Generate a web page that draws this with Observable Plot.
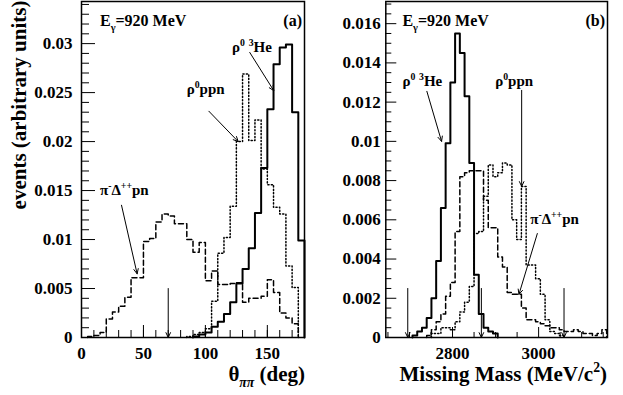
<!DOCTYPE html>
<html><head><meta charset="utf-8">
<script src="https://cdn.jsdelivr.net/npm/d3@7"></script>
<script src="https://cdn.jsdelivr.net/npm/@observablehq/plot@0.6"></script>
<style>
body{margin:0;background:#fff;}
#wrap{position:relative;width:623px;height:395px;overflow:hidden;background:#fff;}
#wrap svg{position:absolute;top:0;}
</style></head><body><div id="wrap"></div>
<script>
// ---------- Panel (a): opening angle theta_pipi (deg), 5 deg bins ----------
const thetaBinWidth = 5;
const thetaSolidStart = 90;   // rho0 3He
const thetaSolid = [0.0001,0.0003,0.0005,0.0011,0.0016,0.0024,0.0036,0.0055,0.0070,0.0091,0.0127,0.0173,0.0233,0.0279,0.0296,0.0299,0.0230,0.0099];
const thetaDashedStart = 5;   // pi- Delta++ p n
const thetaDashed = [0.0001,0.0002,0.0005,0.0019,0.0026,0.0032,0.0041,0.0061,0.0061,0.0098,0.0101,0.0118,0.0126,0.0124,0.0116,0.0116,0.0100,0.0087,0.0097,0.0058,0.0068,0.0054,0.0054,0.0055,0.0056,0.0036,0.0040,0.0040,0.0042,0.0059,0.0046,0.0025,0.0020,0.0014];
const thetaDottedStart = 85;  // rho0 p p n
const thetaDotted = [0.0001,0.0003,0.0005,0.0009,0.0037,0.0086,0.0102,0.0134,0.0200,0.0269,0.0201,0.0222,0.0172,0.0156,0.0133,0.0126,0.0073,0.0051];
const thetaXTicks = [0,50,100,150];
const thetaXMinor = [0,10,20,30,40,50,60,70,80,90,100,110,120,130,140,150,160,170];
const thetaYTicks = [0,0.005,0.01,0.015,0.02,0.025,0.03];
const thetaYMinor = [0.001,0.002,0.003,0.004,0.006,0.007,0.008,0.009,0.011,0.012,0.013,0.014,0.016,0.017,0.018,0.019,0.021,0.022,0.023,0.024,0.026,0.027,0.028,0.029,0.031,0.032,0.033,0.034];
const thetaCut = [{x:70, y1:0.005, y2:0}];
const thetaLabelArrows = [
  {x1:135.8, y1:0.0291, x2:155.2, y2:0.0252},
  {x1:102.8, y1:0.0231, x2:126.5, y2:0.0200},
  {x1:32.3, y1:0.0135, x2:44.9, y2:0.0065}
];

// ---------- Panel (b): missing mass (MeV/c^2) ----------
const massBinStart = 2652;
const massBinWidth = 11;
const massSolidFirstBin = 5;
const massSolid = [0.0001,0.0003,0.0005,0.0010,0.0020,0.0039,0.0066,0.0099,0.0130,0.0155,0.0145,0.0123,0.0089,0.0032,0.0012,0.0005,0.0003,0.0002];
const massDashedFirstBin = 8;
const massDashed = [0.0001,0.0004,0.0008,0.0012,0.0021,0.0028,0.0054,0.0082,0.0084,0.0085,0.0085,0.0085,0.0070,0.0056,0.0056,0.0041,0.0036,0.0023,0.0022,0.0022,0.0015,0.0009,0.0009,0.0008,0.0007,0.0006,0.0005,0.0005,0.0004,0.0003,0.0003,0.0004,0.0003,0.0002,0.0002,0.0001,0.0002,0.0004];
const massDottedFirstBin = 9;
const massDotted = [0.0002,0.0002,0.0005,0.0005,0.0004,0.0008,0.0013,0.0018,0.0026,0.0053,0.0054,0.0072,0.0088,0.0082,0.0084,0.0089,0.0088,0.0060,0.0050,0.0077,0.0037,0.0037,0.0030,0.0022,0.0009,0.0003,0.0002,0.0001];
const massXTicks = [2800,3000];
const massXMinor = [2650,2700,2750,2850,2900,2950,3050,3100,3150];
const massYTicks = [0,0.002,0.004,0.006,0.008,0.01,0.012,0.014,0.016];
const massYMinor = [0.0005,0.001,0.0015,0.0025,0.003,0.0035,0.0045,0.005,0.0055,0.0065,0.007,0.0075,0.0085,0.009,0.0095,0.0105,0.011,0.0115,0.0125,0.013,0.0135,0.0145,0.015,0.0155,0.0165,0.017];
const massCuts = [2696, 2867, 3059];
const massCutTop = 0.0025;
const massLabelArrows = [
  {x1:2740.4, y1:0.01255, x2:2774.5, y2:0.0100},
  {x1:2960.6, y1:0.0126, x2:2960.6, y2:0.0077},
  {x1:2997, y1:0.0053, x2:2954.3, y2:0.0022}
];

const FONT = "Liberation Serif";

function steps(start, width, values) {
  const pts = [{x: start, y: 0}];
  values.forEach((v, i) => {
    pts.push({x: start + i * width, y: v});
    pts.push({x: start + (i + 1) * width, y: v});
  });
  pts.push({x: start + values.length * width, y: 0});
  return pts;
}

function axisSet(xMajor, xMinor, yMajor, yMinor, xMajLen, xMinLen, yMajLen, yMinLen, yPad) {
  const tick = {fill: "none", stroke: "black", label: null};
  const txt = {tickSize: 0, label: null, fill: "black", stroke: "none", tickFormat: d => String(d)};
  return [
    Plot.axisX(xMinor, {tickSize: -xMinLen, ...tick}),
    Plot.axisX(xMajor, {tickSize: -xMajLen, ...tick}),
    Plot.axisX(xMajor, {tickPadding: 9, ...txt}),
    Plot.axisY(yMinor, {tickSize: -yMinLen, ...tick}),
    Plot.axisY(yMajor, {tickSize: -yMajLen, ...tick}),
    Plot.axisY(yMajor, {tickPadding: yPad, ...txt})
  ];
}

const solidStyle = {stroke: "black", strokeWidth: 2};
const dashedStyle = {stroke: "black", strokeWidth: 1.5, strokeDasharray: "5,3"};
const dottedStyle = {stroke: "black", strokeWidth: 1.5, strokeDasharray: "1.2,2.2"};

const plotA = Plot.plot({
  width: 310, height: 395,
  marginLeft: 81, marginRight: 6, marginTop: 1, marginBottom: 58,
  x: {domain: [0, 180], label: null},
  y: {domain: [0, 0.0343], label: null},
  style: {background: "white", color: "black"},
  marks: [
    Plot.line(steps(thetaDottedStart, thetaBinWidth, thetaDotted), {x: "x", y: "y", ...dottedStyle}),
    Plot.line(steps(thetaDashedStart, thetaBinWidth, thetaDashed), {x: "x", y: "y", ...dashedStyle}),
    Plot.line(steps(thetaSolidStart, thetaBinWidth, thetaSolid), {x: "x", y: "y", ...solidStyle}),
    ...axisSet(thetaXTicks, thetaXMinor, thetaYTicks, thetaYMinor, 12, 7, 14, 8, 9),
    Plot.arrow(thetaCut, {x1: "x", y1: "y1", x2: "x", y2: "y2", stroke: "black", strokeWidth: 1, headLength: 8, headAngle: 50}),
    Plot.arrow(thetaLabelArrows, {x1: "x1", y1: "y1", x2: "x2", y2: "y2", stroke: "black", strokeWidth: 1, headLength: 8, headAngle: 50}),
    Plot.frame({stroke: "black", strokeWidth: 1.5})
  ]
});

const plotB = Plot.plot({
  width: 313, height: 395,
  marginLeft: 75.3, marginRight: 16, marginTop: 1, marginBottom: 58,
  x: {domain: [2645, 3160], label: null},
  y: {domain: [0, 0.01713], label: null},
  style: {background: "white", color: "black"},
  marks: [
    Plot.line(steps(massBinStart + massDottedFirstBin * massBinWidth, massBinWidth, massDotted), {x: "x", y: "y", ...dottedStyle}),
    Plot.line(steps(massBinStart + massDashedFirstBin * massBinWidth, massBinWidth, massDashed), {x: "x", y: "y", ...dashedStyle}),
    Plot.line(steps(massBinStart + massSolidFirstBin * massBinWidth, massBinWidth, massSolid), {x: "x", y: "y", ...solidStyle}),
    ...axisSet(massXTicks, massXMinor, massYTicks, massYMinor, 10, 5, 11, 6, 5),
    Plot.arrow(massCuts, {x1: d => d, x2: d => d, y1: () => massCutTop, y2: () => 0, stroke: "black", strokeWidth: 1, headLength: 8, headAngle: 50}),
    Plot.arrow(massLabelArrows, {x1: "x1", y1: "y1", x2: "x2", y2: "y2", stroke: "black", strokeWidth: 1, headLength: 8, headAngle: 50}),
    Plot.frame({stroke: "black", strokeWidth: 1.5})
  ]
});

// make Plot's own tick labels bold serif like the original
for (const p of [plotA, plotB]) {
  d3.select(p).selectAll("text")
    .style("font-family", `"${FONT}", serif`)
    .style("font-weight", "bold")
    .style("font-size", "17px")
    .style("fill", "black");
}

const wrap = document.getElementById("wrap");
plotA.style.left = "0px";
plotB.style.left = "310px";
wrap.appendChild(plotA);
wrap.appendChild(plotB);

// rich text helper (superscripts / subscripts as tspans)
function rich(svg, x, y, parts, {size = 15, anchor = "start", rotate = null} = {}) {
  const t = d3.select(svg).append("text")
    .attr("x", x).attr("y", y)
    .attr("font-family", FONT).attr("font-weight", "bold")
    .attr("font-size", size).attr("text-anchor", anchor).attr("fill", "black");
  if (rotate !== null) t.attr("transform", `rotate(${rotate},${x},${y})`);
  let cur = 0;
  parts.forEach(p => {
    const target = p.sup ? -size * 0.42 : p.sub ? size * 0.28 : 0;
    const ts = t.append("tspan").text(p.t);
    if (target !== cur) ts.attr("dy", target - cur);
    cur = target;
    if (p.sup || p.sub) ts.attr("font-size", size * 0.65);
    if (p.italic) ts.attr("font-style", "italic");
  });
  return t;
}

// panel (a) texts
{
  const sx = plotA.scale("x"), sy = plotA.scale("y");
  const X = v => sx.apply(v), Y = v => sy.apply(v);
  rich(plotA, X(15.3), Y(0.0317), [{t: "E"}, {t: "γ", sub: true}, {t: "=920 MeV"}], {size: 16});
  rich(plotA, X(178.4), Y(0.0317), [{t: "(a)"}], {size: 16, anchor: "end"});
  rich(plotA, X(121.9), Y(0.02905), [{t: "ρ"}, {t: "0", sup: true}, {t: " "}, {t: "3", sup: true}, {t: "He"}]);
  rich(plotA, X(85.3), Y(0.0248), [{t: "ρ"}, {t: "0", sup: true}, {t: "ppn"}]);
  rich(plotA, X(15.3), Y(0.01446), [{t: "π"}, {t: "-", sup: true}, {t: "Δ"}, {t: "++", sup: true}, {t: "pn"}]);
  rich(plotA, 305, 381, [{t: "θ"}, {t: "ππ", sub: true, italic: true}, {t: " (deg)"}], {size: 21, anchor: "end"});
  rich(plotA, 26, 105, [{t: "events (arbitrary units)"}], {size: 21, anchor: "middle", rotate: -90});
}
// panel (b) texts
{
  const sx = plotB.scale("x"), sy = plotB.scale("y");
  const X = v => sx.apply(v), Y = v => sy.apply(v);
  rich(plotB, X(2684.8), Y(0.01585), [{t: "E"}, {t: "γ", sub: true}, {t: "=920 MeV"}], {size: 16});
  rich(plotB, X(3155.3), Y(0.01585), [{t: "(b)"}], {size: 16, anchor: "end"});
  rich(plotB, X(2684.8), Y(0.01279), [{t: "ρ"}, {t: "0", sup: true}, {t: " "}, {t: "3", sup: true}, {t: "He"}]);
  rich(plotB, X(2900.3), Y(0.01279), [{t: "ρ"}, {t: "0", sup: true}, {t: "ppn"}]);
  rich(plotB, X(2981.5), Y(0.00574), [{t: "π"}, {t: "-", sup: true}, {t: "Δ"}, {t: "++", sup: true}, {t: "pn"}]);
  rich(plotB, 297, 381, [{t: "Missing Mass (MeV/c"}, {t: "2", sup: true}, {t: ")"}], {size: 21, anchor: "end"});
}
</script></body></html>
